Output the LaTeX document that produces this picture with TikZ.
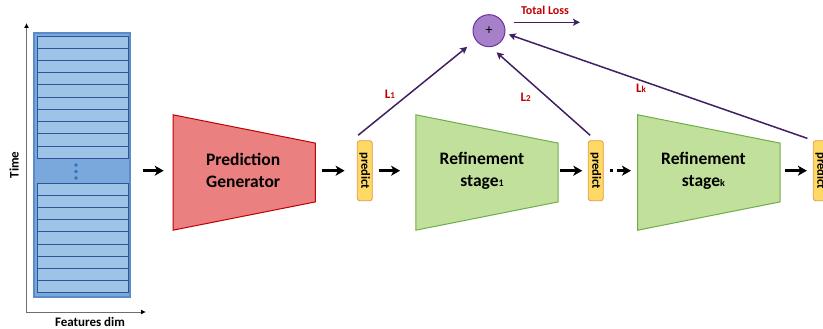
\documentclass[tikz,border=0pt]{standalone}
\usepackage{fontspec}
\setmainfont{Carlito}
\usetikzlibrary{arrows.meta,backgrounds}
\definecolor{pgfill}{RGB}{234,128,128}
\definecolor{pgline}{RGB}{192,0,0}
\definecolor{stfill}{RGB}{192,224,155}
\definecolor{stline}{RGB}{112,173,71}
\definecolor{predfill}{RGB}{255,217,102}
\definecolor{predline}{RGB}{230,150,70}
\definecolor{sumfill}{RGB}{166,128,200}
\definecolor{sumline}{RGB}{112,48,160}
\definecolor{lossc}{RGB}{64,32,96}
\definecolor{lossred}{RGB}{192,0,0}
\definecolor{rowfill}{RGB}{157,195,230}
\definecolor{rowline}{RGB}{47,85,151}
\definecolor{matfill}{RGB}{122,168,220}
\definecolor{matline}{RGB}{91,140,200}
\definecolor{dotc}{RGB}{46,117,182}
\definecolor{axisc}{RGB}{110,110,110}
\begin{document}
\begin{tikzpicture}[x=1pt,y=-1pt,
  bigarr/.style={draw=black,line width=2.6pt,-{Stealth[length=9pt,width=10pt,inset=2.5pt]}},
  parr/.style={draw=lossc,line width=1.5pt,-{Stealth[length=7pt,width=7pt,inset=1.5pt]}},
  trapbox/.style={inner sep=0pt,minimum width=142pt,minimum height=115pt},
  stagetext/.style={font=\bfseries\fontsize{17.5}{22}\selectfont,align=center,inner sep=0pt},
  predbox/.style={draw=predline,fill=predfill,rounded corners=2.5pt,line width=0.8pt,minimum width=15pt,minimum height=60pt,inner sep=0pt,font=\bfseries\fontsize{12.5}{13}\selectfont},
  lossl/.style={text=lossred,font=\bfseries\fontsize{13}{14}\selectfont,inner sep=0pt},
  rowbox/.style={draw=rowline,fill=rowfill,line width=0.9pt},
  axis/.style={draw=axisc,line width=0.9pt}]
\useasboundingbox (0,0) rectangle (823,329);
\clip (0,0) rectangle (823,329);

% axes
\coordinate (axtop) at (26.5,23);
\coordinate (axorig) at (26.5,312);
\coordinate (axright) at (146,312);
\draw[axis,{Latex[length=5pt,width=5pt,color=black]}-{Latex[length=5pt,width=5pt,color=black]}] (axtop) -- (axorig) -- (axright);
\node[rotate=90,font=\bfseries\fontsize{13}{14}\selectfont,inner sep=0pt] (tlab) at (14,165) {Time};
\node[font=\bfseries\fontsize{13}{14}\selectfont,inner sep=0pt] (flab) at (90,322) {Features dim};

% feature matrix
\node[draw=matline,fill=matfill,line width=2pt,minimum width=96pt,minimum height=264pt,inner sep=0pt] (mat) at (82,165) {};
\foreach \i in {0,...,9}
  \draw[rowbox] (37,{36+\i*12.23}) rectangle (128,{36+(\i+1)*12.23});
\foreach \i in {0,...,8}
  \draw[rowbox] (37,{183+\i*12.19}) rectangle (128,{183+(\i+1)*12.19});
\foreach \yy in {165,171.5,178}
  \fill[dotc] (76,\yy) circle (1.8pt);

% prediction generator and refinement stages
\node[trapbox] (pg) at (244.2,172.5) {};
\node[trapbox] (r1) at (487,172.5) {};
\node[trapbox] (rk) at (708.9,172.5) {};
\begin{scope}[on background layer]
  \draw[fill=pgfill,draw=pgline,line width=1pt] (pg.north west) -- ([yshift=-28.3pt]pg.north east) -- ([yshift=28.3pt]pg.south east) -- (pg.south west) -- cycle;
  \draw[fill=stfill,draw=stline,line width=1pt] (r1.north west) -- ([yshift=-28.3pt]r1.north east) -- ([yshift=28.3pt]r1.south east) -- (r1.south west) -- cycle;
  \draw[fill=stfill,draw=stline,line width=1pt] (rk.north west) -- ([yshift=-28.3pt]rk.north east) -- ([yshift=28.3pt]rk.south east) -- (rk.south west) -- cycle;
\end{scope}
\node[stagetext] (pgt) at ([xshift=-1pt,yshift=2pt]pg.center) {Prediction\\Generator};
\node[stagetext] (r1t) at ([xshift=-5pt,yshift=2pt]r1.center) {Refinement\\stage{\fontsize{10}{10}\selectfont 1}};
\node[stagetext] (rkt) at ([xshift=-5.5pt,yshift=2pt]rk.center) {Refinement\\stage{\fontsize{10}{10}\selectfont k}};

% predict boxes
\node[predbox] (p1) at (364.8,170.7) {\rotatebox{-90}{predict}};
\node[predbox] (p2) at (595.8,170.7) {\rotatebox{-90}{predict}};
\node[predbox] (p3) at (820.8,170.7) {\rotatebox{-90}{predict}};

% black arrows
\draw[bigarr,shorten <=12pt,shorten >=9.3pt] (mat.east |- p1.west) -- (pg.west |- p1.west);
\draw[bigarr,shorten <=7pt,shorten >=12.3pt] (pg.east |- p1.west) -- (p1.west);
\draw[bigarr,shorten <=6pt,shorten >=15.7pt] (p1.east) -- (r1.west |- p1.east);
\draw[bigarr,shorten <=1.7pt,shorten >=5.6pt] (r1.east |- p2.west) -- (p2.west);
\draw[bigarr,shorten <=6pt,shorten >=6.7pt,dash pattern=on 3pt off 4pt on 30pt] (p2.east) -- (rk.west |- p2.east);
\draw[bigarr,shorten <=5pt,shorten >=6pt] (rk.east |- p3.west) -- (p3.west);

% sum node and losses
\node[circle,draw=sumline,fill=sumfill,line width=1pt,minimum size=32pt,inner sep=0pt,font=\fontsize{14}{14}\selectfont] (sum) at (489,30.7) {+};
\draw[parr,shorten <=8pt,shorten >=10.6pt] ([xshift=-5pt]p1.north west) -- (sum.215);
\draw[parr,shorten <=7.5pt,shorten >=7.8pt] (p2.north) -- (sum.276);
\draw[parr,shorten <=5.8pt,shorten >=3.7pt] (p3.north west) -- (sum.351);
\coordinate (tlend) at (580,22.3);
\draw[parr,shorten <=8.3pt] (sum.east |- tlend) -- (tlend);
\node[text=lossred,font=\bfseries\fontsize{12}{13}\selectfont,inner sep=0pt] (tl) at (545,10) {Total Loss};
\node[lossl] (l1) at (390,94.3) {L{\fontsize{9}{9}\selectfont 1}};
\node[lossl] (l2) at (525.7,97.7) {L{\fontsize{9}{9}\selectfont 2}};
\node[lossl] (lk) at (641,88.3) {L{\fontsize{9}{9}\selectfont k}};
\end{tikzpicture}
\end{document}
